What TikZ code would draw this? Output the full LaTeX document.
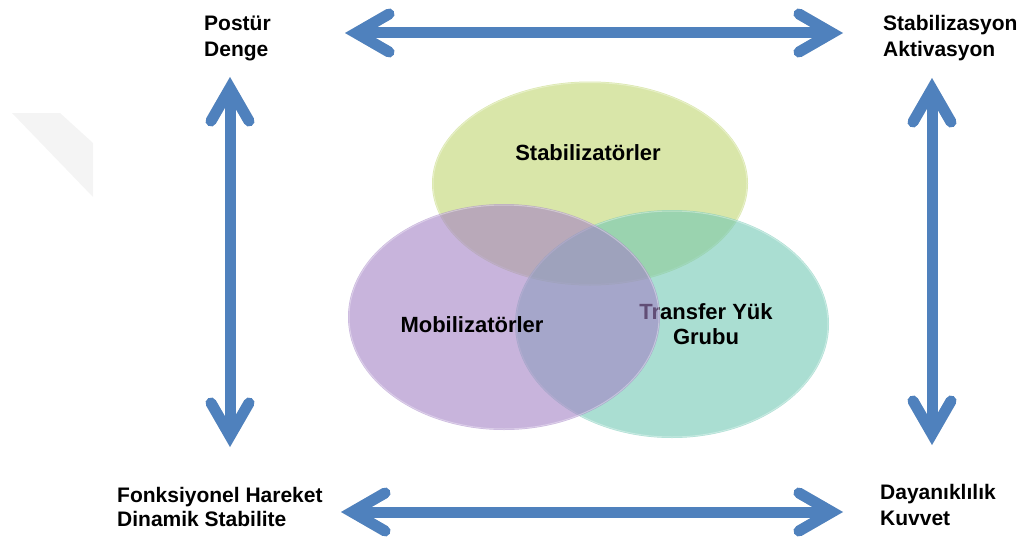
\documentclass[tikz,border=0pt]{standalone}
\usepackage{fontspec}
\setmainfont{Liberation Sans}
\usetikzlibrary{arrows.meta}
\definecolor{arrowblue}{RGB}{79,129,189}
\definecolor{stabgreen}{RGB}{192,214,112}
\definecolor{mobpurple}{RGB}{163,130,197}
\definecolor{transteal}{RGB}{113,200,180}
\begin{document}
\begin{tikzpicture}[x=1pt,y=-1pt,
  chev/.tip={Straight Barb[length=33pt,width=38pt,line cap=round,line join=miter]},
  bar/.style={line width=11pt, draw=arrowblue, chev-chev},
  barshadow/.style={line width=11pt, draw=black, draw opacity=0.10, chev-chev},
  corner/.style={font=\bfseries\fontsize{21}{26}\selectfont, align=left, anchor=north west, inner sep=0pt},
  vlabel/.style={font=\bfseries\fontsize{22}{25}\selectfont, align=center, inner sep=0pt},
  blob/.style={fill opacity=0.6},
  rim/.style={draw=white, draw opacity=0.35, line width=1pt}
]
\useasboundingbox (0,0) rectangle (1027,543);
% faint watermark fragment
\fill[gray!9] (12,113) -- (60,113) -- (93,143) -- (93,197) -- cycle;

% corner labels
\node[corner] (pd) at (204,16) {Postür\\Denge};
\node[corner] (sa) at (883,15.5) {Stabilizasyon\\Aktivasyon};
\node[corner, font=\bfseries\fontsize{21}{24}\selectfont] (fd) at (117,487) {Fonksiyonel Hareket\\Dinamik Stabilite};
\node[corner] (dk) at (880,484) {Dayanıklılık\\Kuvvet};

% arrow end points
\coordinate (tl) at (345,33);
\coordinate (tr) at (843,33);
\coordinate (bl) at (341,512);
\coordinate (br) at (843,512);
\coordinate (lt) at (230,77);
\coordinate (lb) at (230,447);
\coordinate (rt) at (932,78);
\coordinate (rb) at (932,445);

% shadows
\begin{scope}[shift={(2,3.5)}]
\draw[barshadow] (tl) -- (tr);
\draw[barshadow] (bl) -- (br);
\draw[barshadow] (lt) -- (lb);
\draw[barshadow] (rt) -- (rb);
\end{scope}
% arrows
\draw[bar] (tl) -- (tr);
\draw[bar] (bl) -- (br);
\draw[bar] (lt) -- (lb);
\draw[bar] (rt) -- (rb);

% Venn ellipses
\fill[stabgreen, blob] (590,183.5) ellipse [x radius=158pt, y radius=102pt];
\draw[rim] (590,183.5) ellipse [x radius=157pt, y radius=101pt];
\node[vlabel] (stab) at (588,153) {Stabilizatörler};
\fill[transteal, blob] (672,324) ellipse [x radius=157pt, y radius=114pt];
\draw[rim] (672,324) ellipse [x radius=156pt, y radius=113pt];
\node[vlabel] (trans) at (706,324) {Transfer Yük\\Grubu};
\fill[mobpurple, blob] (504,317) ellipse [x radius=156pt, y radius=113pt];
\draw[rim] (504,317) ellipse [x radius=155pt, y radius=112pt];
\node[vlabel] (mob) at (472,325) {Mobilizatörler};
\end{tikzpicture}
\end{document}
